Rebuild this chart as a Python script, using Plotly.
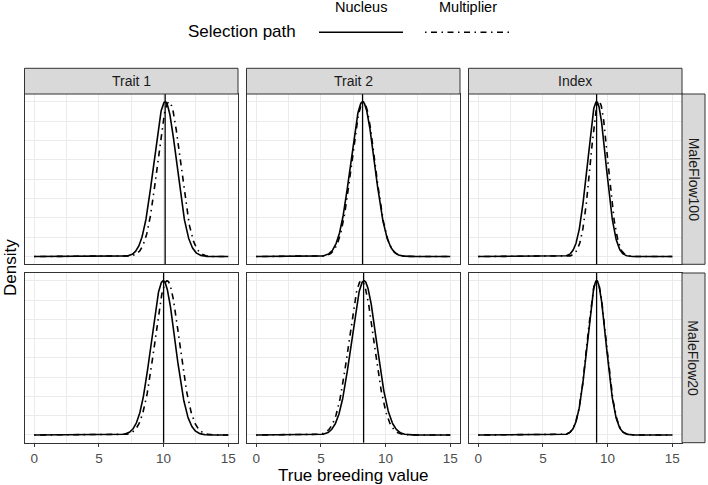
import numpy as np
import plotly.graph_objects as go

# ---------------- data ----------------
traits = ["Trait 1", "Trait 2", "Index"]
scenarios = ["MaleFlow100", "MaleFlow20"]
paths = ["Nucleus", "Multiplier"]

# distribution summaries of true breeding value: rows = scenarios, cols = traits
nucleus_mean = [[10.12, 8.22, 9.15], [9.97, 8.33, 9.15]]
nucleus_sd = [[0.88, 0.92, 0.72], [0.92, 0.97, 0.72]]
multiplier_mean = [[10.42, 8.28, 9.35], [10.27, 8.13, 9.16]]
multiplier_sd = [[0.88, 0.90, 0.68], [0.95, 0.97, 0.73]]
vline_value = [[10.12, 8.22, 9.15], [10.0, 8.30, 9.15]]

x_ticks = [0, 5, 10, 15]
x_from, x_to = 0, 15

# ---------------- geometry ----------------
W, H = 708, 485
col_px = [(24.5, 238.0), (246.5, 460.0), (468.5, 682.0)]
row_px = [(94.0, 264.3), (273.0, 442.7)]
top_strip = (68.3, 94.0)
right_strip = (682.0, 705.0)


def fx(px):
    return px / W


def fy(py):
    return 1 - py / H


xs = np.linspace(x_from, x_to, 601)


def scaled_density(m, s):
    return np.exp(-0.5 * ((xs - m) / s) ** 2)


fig = go.Figure()
FONT = "Liberation Sans, Arial, sans-serif"
BORDER = "#333333"
GRID = "#ebebeb"
LW = 1.6
DOTDASH = "1.5px,4.5px,6px,4.5px"
TICK_FS = 13.5
STRIP_FS = 14
TITLE_FS = 17
LEG_FS = 14.5

layout = dict(
    width=W,
    height=H,
    margin=dict(l=0, r=0, t=0, b=0),
    paper_bgcolor="white",
    plot_bgcolor="white",
    showlegend=False,
    font=dict(family=FONT, color="black"),
)
shapes = []
annotations = []

for r, scen in enumerate(scenarios):
    for c, tr in enumerate(traits):
        idx = r * 3 + c + 1
        xa = "x" if idx == 1 else f"x{idx}"
        ya = "y" if idx == 1 else f"y{idx}"
        xkey = "xaxis" if idx == 1 else f"xaxis{idx}"
        ykey = "yaxis" if idx == 1 else f"yaxis{idx}"
        bottom = r == len(scenarios) - 1
        layout[xkey] = dict(
            domain=[fx(col_px[c][0]), fx(col_px[c][1])],
            anchor=ya,
            range=[-0.75, 15.75],
            tickmode="array",
            tickvals=x_ticks,
            showticklabels=bottom,
            ticks="outside" if bottom else "",
            ticklen=3,
            tickcolor=BORDER,
            tickfont=dict(size=TICK_FS, color="#4d4d4d", family=FONT),
            showgrid=True,
            gridcolor=GRID,
            gridwidth=1.1,
            minor=dict(tickmode="array", tickvals=[2.5, 7.5, 12.5],
                       showgrid=True, gridcolor=GRID, gridwidth=0.6, ticks=""),
            showline=True,
            mirror=True,
            linecolor=BORDER,
            linewidth=1,
            zeroline=False,
            fixedrange=True,
        )
        layout[ykey] = dict(
            domain=[fy(row_px[r][1]), fy(row_px[r][0])],
            anchor=xa,
            range=[-0.05, 1.05],
            tickmode="array",
            tickvals=[0, 0.25, 0.5, 0.75, 1.0],
            showticklabels=False,
            ticks="",
            showgrid=True,
            gridcolor=GRID,
            gridwidth=1.1,
            minor=dict(tickmode="array", tickvals=[0.125, 0.375, 0.625, 0.875],
                       showgrid=True, gridcolor=GRID, gridwidth=0.6, ticks=""),
            showline=True,
            mirror=True,
            linecolor=BORDER,
            linewidth=1,
            zeroline=False,
            fixedrange=True,
        )
        fig.add_trace(go.Scatter(
            x=xs, y=scaled_density(nucleus_mean[r][c], nucleus_sd[r][c]),
            mode="lines", line=dict(color="black", width=LW),
            name=paths[0], xaxis=xa, yaxis=ya, hoverinfo="skip"))
        fig.add_trace(go.Scatter(
            x=xs, y=scaled_density(multiplier_mean[r][c], multiplier_sd[r][c]),
            mode="lines", line=dict(color="black", width=LW, dash=DOTDASH),
            name=paths[1], xaxis=xa, yaxis=ya, hoverinfo="skip"))
        shapes.append(dict(type="line", xref=xa, yref=f"{ya} domain",
                           x0=vline_value[r][c], x1=vline_value[r][c], y0=0, y1=1,
                           line=dict(color="black", width=1.3), layer="above"))

# column strips
for c, tr in enumerate(traits):
    shapes.append(dict(type="rect", xref="paper", yref="paper",
                       x0=fx(col_px[c][0]), x1=fx(col_px[c][1]),
                       y0=fy(top_strip[1]), y1=fy(top_strip[0]),
                       fillcolor="#d9d9d9", line=dict(color=BORDER, width=1)))
    annotations.append(dict(text=tr, xref="paper", yref="paper",
                            x=fx((col_px[c][0] + col_px[c][1]) / 2),
                            y=fy((top_strip[0] + top_strip[1]) / 2),
                            showarrow=False, xanchor="center", yanchor="middle",
                            font=dict(size=STRIP_FS, color="#1a1a1a", family=FONT)))
# row strips
for r, scen in enumerate(scenarios):
    shapes.append(dict(type="rect", xref="paper", yref="paper",
                       x0=fx(right_strip[0]), x1=fx(right_strip[1]),
                       y0=fy(row_px[r][1]), y1=fy(row_px[r][0]),
                       fillcolor="#d9d9d9", line=dict(color=BORDER, width=1)))
    annotations.append(dict(text=scen, xref="paper", yref="paper",
                            x=fx((right_strip[0] + right_strip[1]) / 2),
                            y=fy((row_px[r][0] + row_px[r][1]) / 2),
                            showarrow=False, xanchor="center", yanchor="middle",
                            textangle=90,
                            font=dict(size=STRIP_FS, color="#1a1a1a", family=FONT)))

# axis titles
annotations.append(dict(text="True breeding value", xref="paper", yref="paper",
                        x=fx(353), y=fy(475), showarrow=False,
                        xanchor="center", yanchor="middle",
                        font=dict(size=TITLE_FS, color="black", family=FONT)))
annotations.append(dict(text="Density", xref="paper", yref="paper",
                        x=fx(10), y=fy(268), showarrow=False, textangle=-90,
                        xanchor="center", yanchor="middle",
                        font=dict(size=TITLE_FS, color="black", family=FONT)))

# legend (drawn manually, ggplot top-legend style)
annotations.append(dict(text="Selection path", xref="paper", yref="paper",
                        x=fx(242), y=fy(32), showarrow=False,
                        xanchor="center", yanchor="middle",
                        font=dict(size=TITLE_FS, color="black", family=FONT)))
legend_keys = [(319, 403, "solid"), (425, 510, DOTDASH)]
for (k0, k1, dsh), lab in zip(legend_keys, paths):
    shapes.append(dict(type="line", xref="paper", yref="paper",
                       x0=fx(k0), x1=fx(k1), y0=fy(32.3), y1=fy(32.3),
                       line=dict(color="black", width=LW, dash=dsh)))
    annotations.append(dict(text=lab, xref="paper", yref="paper",
                            x=fx((k0 + k1) / 2), y=fy(7.5), showarrow=False,
                            xanchor="center", yanchor="middle",
                            font=dict(size=LEG_FS, color="black", family=FONT)))

layout["shapes"] = shapes
layout["annotations"] = annotations
fig.update_layout(**layout)
fig.write_html("out.html",
               config={"displayModeBar": False},
               post_script="document.body.style.margin='0px';"
                           "document.body.style.overflow='hidden';")
